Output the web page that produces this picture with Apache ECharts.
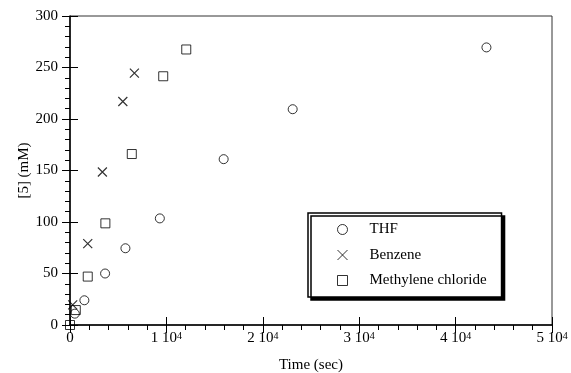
<!DOCTYPE html>
<html>
<head>
<meta charset="utf-8">
<title>[5] vs time</title>
<style>
html, body { margin: 0; padding: 0; background: #fff; }
#main { width: 571px; height: 373px; }
</style>
</head>
<body>
<div id="main"></div>
<script src="https://cdn.jsdelivr.net/npm/echarts@6/dist/echarts.min.js"></script>
<script>
// data (time in sec, [5] in mM)
var thfTime = [500, 1490, 3640, 5750, 9320, 15940, 23100, 43200];
var thfConc = [11, 24, 50, 74.5, 103.5, 161, 209.5, 269.5];
var benzeneTime = [280, 1840, 3360, 5480, 6680];
var benzeneConc = [19.5, 79, 148.5, 217, 244.5];
var mcTime = [0, 600, 1840, 3670, 6410, 9670, 12060];
var mcConc = [0, 14.5, 47, 98.7, 166, 241.5, 267.5];
var seriesNames = ['THF', 'Benzene', 'Methylene chloride'];

function pairs(xs, ys) {
    return xs.map(function (x, i) { return [x, ys[i]]; });
}

var font = 'Liberation Serif';
var crossPath = 'path://M0,0L10,10M10,0L0,10';

var xBase = { type: 'value', min: 0, max: 50000, interval: 10000, gridIndex: 0, position: 'bottom', splitLine: { show: false } };
var yBase = { type: 'value', min: 0, max: 300, interval: 50, gridIndex: 0, position: 'left', splitLine: { show: false } };

var myChart = echarts.init(document.getElementById('main'));

var option = {
    animation: false,
    backgroundColor: '#fff',
    grid: {
        left: 70, right: 19, top: 16, bottom: 48,
        outerBoundsMode: 'none',
        show: true, borderColor: '#333', borderWidth: 1
    },
    legend: {
        orient: 'vertical',
        left: 308, top: 213,
        data: seriesNames,
        itemWidth: 10, itemHeight: 10, itemGap: 10.5,
        padding: [9, 15, 9, 29],
        backgroundColor: '#fff',
        borderColor: '#000', borderWidth: 1.5,
        shadowColor: '#000', shadowBlur: 0, shadowOffsetX: 3, shadowOffsetY: 3,
        itemStyle: { borderWidth: 1 },
        textStyle: { fontFamily: font, fontSize: 15, color: '#000', padding: [0, 0, 0, 17] }
    },
    xAxis: [
        Object.assign({}, xBase, {
            name: 'Time (sec)', nameLocation: 'middle', nameGap: 33, nameMoveOverlap: false,
            nameTextStyle: { fontFamily: font, fontSize: 15, color: '#000' },
            axisLine: { lineStyle: { color: '#000', width: 1.5 } },
            axisTick: { inside: false, length: 8, lineStyle: { color: '#000' } },
            minorTick: { show: true, splitNumber: 5, length: 5, lineStyle: { color: '#000' } },
            axisLabel: {
                margin: 6, fontFamily: font, fontSize: 15, color: '#000',
                formatter: function (v) { return v === 0 ? '0' : (v / 10000) + ' 10{sup|4}'; },
                rich: { sup: { fontFamily: font, fontSize: 10, color: '#000', verticalAlign: 'top', lineHeight: 10, padding: [0, 0, 5, 0] } }
            }
        }),
        Object.assign({}, xBase, {
            axisLine: { show: false },
            axisTick: { inside: true, length: 8, lineStyle: { color: '#000' } },
            axisLabel: { show: false }
        })
    ],
    yAxis: [
        Object.assign({}, yBase, {
            name: '[5] (mM)', nameLocation: 'middle', nameGap: 38, nameMoveOverlap: false,
            nameTextStyle: { fontFamily: font, fontSize: 15, color: '#000' },
            axisLine: { lineStyle: { color: '#000', width: 1.5 } },
            axisTick: { inside: false, length: 8, lineStyle: { color: '#000' } },
            minorTick: { show: true, splitNumber: 5, length: 5, lineStyle: { color: '#000' } },
            axisLabel: { margin: 12, fontFamily: font, fontSize: 15, color: '#000' }
        }),
        Object.assign({}, yBase, {
            axisLine: { show: false },
            axisTick: { inside: true, length: 8, lineStyle: { color: '#000' } },
            axisLabel: { show: false }
        })
    ],
    series: [
        {
            name: seriesNames[0], type: 'scatter', symbol: 'circle', symbolSize: 9,
            itemStyle: { color: 'rgba(255,255,255,0)', borderColor: '#000', borderWidth: 1 },
            data: pairs(thfTime, thfConc)
        },
        {
            name: seriesNames[1], type: 'scatter', symbol: crossPath, symbolSize: 9,
            itemStyle: { color: 'rgba(255,255,255,0)', borderColor: '#000', borderWidth: 1.2 },
            data: pairs(benzeneTime, benzeneConc)
        },
        {
            name: seriesNames[2], type: 'scatter', symbol: 'rect', symbolSize: 9,
            itemStyle: { color: 'rgba(255,255,255,0)', borderColor: '#000', borderWidth: 1 },
            data: pairs(mcTime, mcConc)
        }
    ]
};

myChart.setOption(option);
</script>
</body>
</html>
